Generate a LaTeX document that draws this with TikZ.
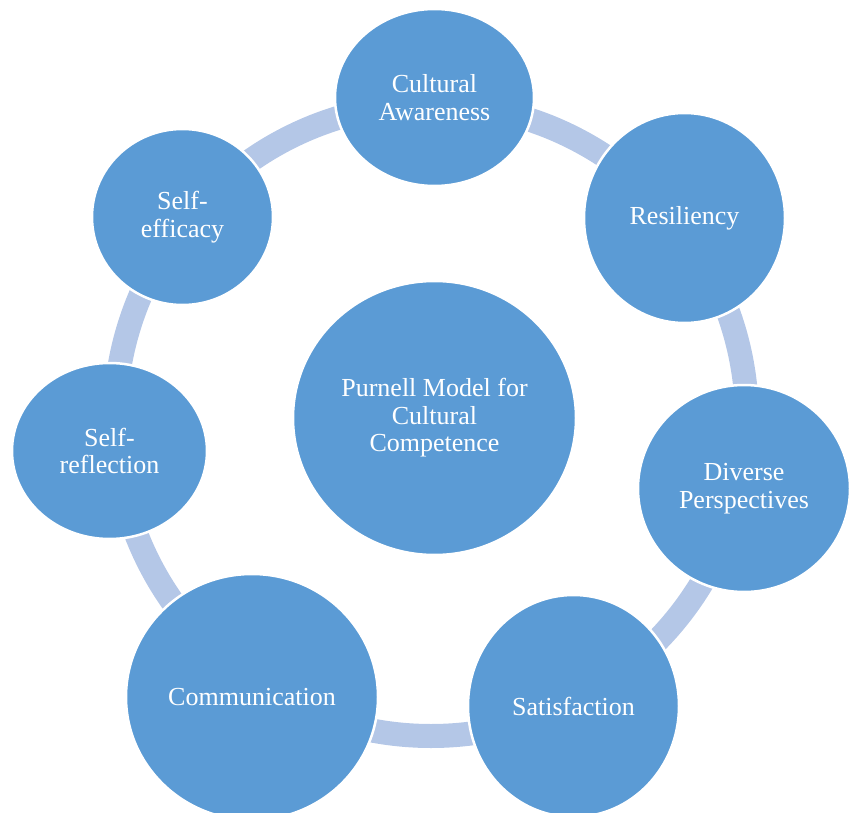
\documentclass[tikz,border=0pt]{standalone}
\usepackage{fontspec}
\setmainfont{Liberation Serif}
\usetikzlibrary{shapes.geometric}
\definecolor{nodeblue}{HTML}{5B9BD5}
\definecolor{ringblue}{HTML}{B4C7E7}
\begin{document}
\begin{tikzpicture}[x=1pt,y=-1pt,
  bubble/.style={ellipse, fill=nodeblue, draw=white, line width=2.5pt,
    inner sep=0pt, text=white, align=center,
    font=\fontsize{26}{27.5}\selectfont},
  ring/.style={draw=ringblue, line width=24pt}]
  \useasboundingbox (0,0) rectangle (849,813);
  \clip (0,0) rectangle (849,813);

  % light ring linking the outer bubbles
  \coordinate (ringc) at (431,420);
  \draw[ring] (ringc) circle[radius=316];

  % hub
  \node[bubble, minimum width=283, minimum height=274] (hub) at (434.5,418)
    {Purnell Model for\\Cultural\\Competence};

  % outer bubbles, clockwise from the top
  \node[bubble, minimum width=199, minimum height=177] (aware) at (434.5,97.5)
    {Cultural\\Awareness};
  \node[bubble, minimum width=201, minimum height=210] (resil) at (684.5,218)
    {Resiliency};
  \node[bubble, minimum width=212, minimum height=207] (diverse) at (744,488.5)
    {Diverse\\Perspectives};
  \node[bubble, minimum width=211, minimum height=222] (satis) at (573.5,706)
    {Satisfaction};
  \node[bubble, minimum width=252, minimum height=246] (comm) at (252,697)
    {Communication};
  \node[bubble, minimum width=195, minimum height=176] (reflect) at (109.5,451)
    {Self-\\reflection};
  \node[bubble, minimum width=181, minimum height=176] (efficacy) at (182.5,217)
    {Self-\\efficacy};
\end{tikzpicture}
\end{document}
